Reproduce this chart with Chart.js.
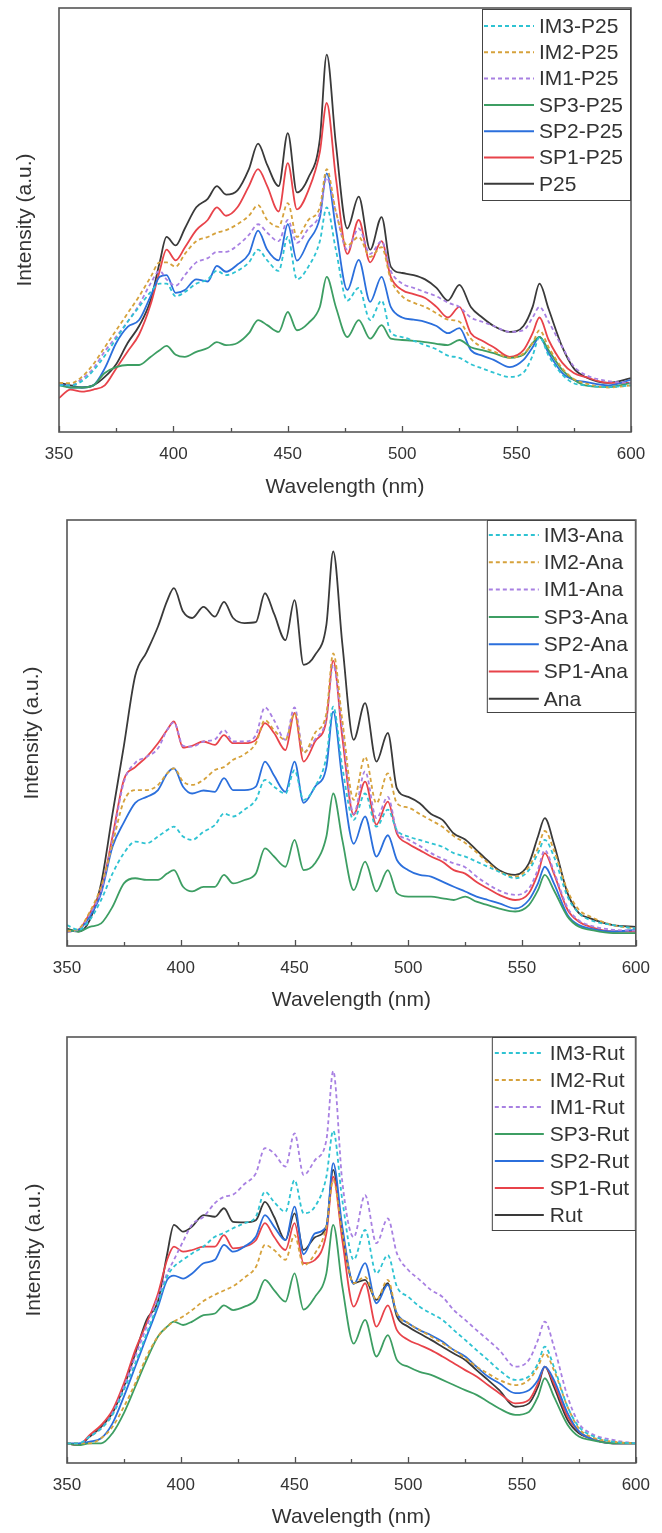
<!DOCTYPE html>
<html>
<head>
<meta charset="utf-8">
<script src="https://cdn.jsdelivr.net/npm/chart.js@4.4.0/dist/chart.umd.min.js"></script>
<style>
html,body{margin:0;padding:0;background:#fff;}
#wrap{position:relative;width:662px;height:1533px;overflow:hidden;}
.panel{position:absolute;left:0;width:662px;}
canvas{display:block;}
</style>
</head>
<body>
<div id="wrap">
  <div class="panel" style="top:0px;height:500px"><canvas id="c1" width="662" height="500"></canvas></div>
  <div class="panel" style="top:500px;height:515px"><canvas id="c2" width="662" height="515"></canvas></div>
  <div class="panel" style="top:1015px;height:518px"><canvas id="c3" width="662" height="518"></canvas></div>
</div>
<script>
// ---------- shared x grid (nm) ----------
const wavelengths = [350,355,360,365,370,375,380,385,390,394,397,401,405,410,415,419,423,428,433,437,441,446,450,454,459,464,467,471,476,481,486,491,495,500,505,510,515,520,525,530,535,540,547,553,557,560,564,570,575,580,590,600];
const xTickValues = [350,400,450,500,550,600];
const xTitle = 'Wavelength (nm)';
const yTitle = 'Intensity (a.u.)';

// ---------- panel 1 : P25 ----------
const p25Labels = ['IM3-P25','IM2-P25','IM1-P25','SP3-P25','SP2-P25','SP1-P25','P25'];
const p25_IM3 = [11,11,12,14.5,18,22,26,29.5,33,35,35,32,33,35,36,38,37,38,40,43,40.5,38,46,36,39,45,53,43,31,34,26.4,31,23.5,22.4,21.5,20.5,19.5,18,17.5,16,15,14,13,14,18,22.4,18,13.5,11.5,11,10.6,11];
const p25_IM2 = [11.6,11.5,13,16,20,24,28,32,36.5,40,40,39,42,45,46,47,47.6,49,51,53.5,50,48.4,54,46,50,53,62,52,44,46,41.3,43.6,36,32,30.5,29.5,28,26.5,26,22,20,19,17.5,18.5,21,24,20,15,12.5,11.5,10.5,11];
const p25_IM1 = [11.6,11,12.5,15,19,22.5,26,30,35,38,36,34.5,37,40,41,42.5,42.5,44,46.5,49,47,45,50,44.6,48,51.6,60,52,43,48,42,45,38,35,34,33,32,30.5,29.5,27,26,25,23.6,24,27,29.5,26,20,15.5,13.5,12,11.6];
const p25_SP3 = [11,10.5,10.5,11,13.9,15.3,15.8,15.8,17.7,19.3,20.3,18.2,17.7,18.9,19.8,21.2,20.5,21,23.3,26.4,25.2,23.6,28.3,24,25.7,29.5,36.6,29.5,22.4,26.4,22,25.2,22,21.7,21.5,21.2,20.8,20.5,21.7,20,19.3,18.6,17.5,18.2,21,22.4,19.3,14.6,12.3,11,10.6,11.6];
const p25_SP2 = [11.6,10.5,10.5,11,15,21,24.8,26.4,32,36.6,37,32.8,33.5,36,35.5,39.2,37.8,39.5,42,47.5,43,40.5,49,40.4,45,50.5,61,48,33.5,40.6,30.7,36.6,29.5,27,26.5,26,25,23.3,24.5,19.3,18,17,15.3,17,20,22.4,18.6,13.9,12.3,11.8,11,12.3];
const p25_SP1 = [8,10,9.5,10,11,15,19,23,30,38,43,40.5,43.5,47.6,50,53,51,53,58,62,58,52,63.4,52.5,57,66,77.6,60,42,50,40,45,36.6,33.5,32.5,31.6,29.5,27,29.5,23.3,21.5,20,17.7,19.3,23.3,27,21.7,16.3,13.9,13,11.6,11.6];
const p25_Base = [11.6,11,10.5,11,13,16,21,25,31,40,46,44,48,53,55,58,56,57,62,68,63,58,70.5,56.5,60,69,89,68,48,55.5,43,50.7,39,37.5,37,36,34,31,34.7,29.5,27,25,23.6,25,29.5,35,29,20,15,13,11.6,12.7];

// ---------- panel 2 : Ana ----------
const anaLabels = ['IM3-Ana','IM2-Ana','IM1-Ana','SP3-Ana','SP2-Ana','SP1-Ana','Ana'];
const ana_IM3 = [4.9,3.8,6.1,10.8,17,21.8,24.5,24.1,25.7,27.2,28,25.7,24.9,26.8,28.4,31.1,30.4,32,34.3,39,37.4,35.8,41.3,34.3,37.4,44.4,56.2,42,29.6,35.8,28,32,27.2,25.7,24.9,24.1,23.3,21.8,21,19.8,18.6,17.4,15.9,17.8,21.8,24.9,21,11.6,7.7,6.1,4.9,4.1];
const ana_IM2 = [3.5,4,8,14,24,34,36.6,36.6,37.8,40.5,41.7,38.6,37.8,39,41.3,42,43.7,45,47.6,53,50.7,48.4,54.6,45.3,50,54.6,68.7,53,34.3,44.4,33.5,40.5,33.5,32.5,31,29.5,28,25.8,24.2,22,19.5,17.5,16.3,18.6,23,27,22.5,13,8.5,6.9,4.9,4.1];
const ana_IM1 = [3.4,3.8,7.5,13,25,38.5,43,44.4,46.4,50.7,52.5,47,46.8,48,48.5,50.7,48,48,49.5,56,53,48.4,56,45.5,48.5,53.5,66,51,31,41,30,35,27,25,23.5,21.8,20.5,19.4,18.5,16.3,14.5,13,12,13.5,18,22.5,17.5,9,6,4.8,3.8,3.6];
const ana_SP3 = [3.8,3.4,4.5,5.3,9.2,14.7,15.9,15.5,15.5,17,17.8,13.9,12.8,13.9,13.9,16.7,14.7,15.5,17,22.9,21,18.6,24.9,17.8,19.4,25.7,35.8,24.9,13.1,19.8,12.8,17.8,12.4,11.6,11.6,11.6,11.2,10.8,11.6,10.4,9.6,8.8,8.1,9.6,13.1,16.7,13.1,6.9,4.5,3.8,3,3];
const ana_SP2 = [3.4,3.8,6.9,12.4,23.3,29,33.6,35,36.6,40.5,41.7,37.4,35.8,36.5,36.2,39.4,36.6,36.6,37.4,43.3,40,36.2,43.3,33.6,37.4,42,55,39,24,30.4,21,26,20.2,17.8,16.7,16.3,15.1,13.9,12.8,11.6,10.8,10,8.8,10.8,14.7,18.6,14.7,7.3,4.9,4.1,3.4,3.8];
const ana_SP1 = [3.4,3.8,7.7,13,25.7,39,42,44.4,47.6,50.7,52.7,46.6,47,48,47.2,49.5,47.6,47.6,48.4,52.3,50,46,54.7,43.3,48,53,67,49,30.8,38.6,28.5,33.9,26.4,24,22.5,21,19.8,17.8,17,15,13.5,12,10.8,12.4,17,21.8,17,8.5,5.7,4.5,3.4,3.4];
const ana_Base = [4.1,3.4,6.1,14.7,31,47,63.5,69,75,81,84,78.5,77,79.6,77.3,80.8,77,75.8,76,82.8,78,71.8,81.2,66,68.3,75.4,92.6,71,48.4,57,43.3,50,37,35,33.5,31,29.6,26.4,25,22.5,20,17.8,16.7,19.4,25.7,30,24,12.4,7.7,6.5,4.9,4.5];

// ---------- panel 3 : Rut ----------
const rutLabels = ['IM3-Rut','IM2-Rut','IM1-Rut','SP3-Rut','SP2-Rut','SP1-Rut','Rut'];
const rut_IM3 = [4.6,4.6,6.2,8.1,11.3,17.1,23.4,30.4,37.5,43.7,46.1,47.7,49.2,50.8,53.1,54,55.1,56.3,57.8,63.7,61.3,59,66.4,58.6,60.2,67.2,78,61.7,47.7,54.7,44.5,48.8,41.4,39,36.7,35.1,33.6,31.2,28.9,26.5,24.2,21.8,19.5,20.3,23.4,27.3,22.6,13.2,8.5,6.6,5,4.6];
const rut_IM2 = [4.6,4.6,4.6,5.8,8.5,13.2,18.7,25,29.7,32,33.2,34.4,35.9,38,39.5,40.5,41.5,43.5,46,51.2,50,47.7,53.5,46.4,49.2,55.5,66.4,53.9,42.2,43.7,38.3,43,35.1,32.8,31.2,29.7,28.1,26.5,24.6,22.6,21,19.5,18.3,19.5,22.6,25.7,21.8,13.2,8.1,6.2,5,4.6];
const rut_IM1 = [4.6,4.6,6.2,8.1,11.7,17.9,25,32,39,44.5,47.7,52,56,57.8,61,62.5,63,65.5,68,73.9,72.7,69.6,77.4,67.6,71.1,75.8,92,66,53,62.9,51.6,57.4,49.2,45.3,43,40.6,39,35.9,33.6,31.2,28.9,26.5,22.6,24.2,28.9,33.2,27.3,15.6,9.3,7,5.4,4.6];
const rut_SP3 = [4.6,4.2,4.6,4.6,7,11.7,17.9,24.2,29.7,32,33.2,32.4,33.2,34.7,35.1,37,35.9,36.7,38.3,43,40.6,37.9,44.5,36,39,44.5,55.9,41.4,28,33.6,25,30,24.2,22.6,21.4,20.7,19.5,18.3,17.1,16,14.4,12.8,11.3,12,15.6,19.9,15.6,9,6.2,5.4,4.6,4.6];
const rut_SP2 = [4.6,4.6,5,5.8,9.3,15.6,22.6,29.7,36.7,43,44,43.3,44.5,46.9,47.7,51.2,49.6,50.8,53.1,58.2,55.5,52.3,60.2,49,53.9,55.5,70.4,55.5,42,46.9,37.5,41.8,35.1,32.8,31.2,30,28.5,26.5,25,22.6,20.3,18.7,16.4,17.1,19.5,22.6,19.5,11.7,7.4,5.8,4.6,4.6];
const rut_SP1 = [4.6,4.2,6.6,8.9,12.4,18.7,26.5,32.8,39.8,47.7,50.8,49.6,50,50.8,50.8,53.5,50.4,50.8,52.3,56.3,53.1,50,56.3,46.9,47.7,53.9,67.2,52.3,36.7,42.2,32,37,31.2,28.9,27.7,26.5,25,23.4,21.8,20.3,18.3,16.4,14,14.8,18.7,22.6,18.7,10.9,7.4,5.8,4.6,4.6];
const rut_Base = [4.6,4.2,6.2,8.5,11.7,17.9,25.7,33.6,38,49,55.9,54.3,55.5,58.2,57.8,59.8,56.6,56.5,57,61.3,57.8,52.3,58.6,50,53,55.5,68.8,53.9,42.2,43,38.3,42.2,34.4,32,30.4,28.9,27.3,25.7,24.2,21.8,19.5,17.1,13.2,14,17.9,22.6,17.9,10.1,7,5.8,4.6,4.6];

// ---------- styles ----------
const FONT = "'Liberation Sans', Arial, Helvetica, sans-serif";
const TEXT = '#333333';
const seriesStyle = [
  {color:'#2ec3d2', dash:[4,3]},  // IM3
  {color:'#d6a23c', dash:[4,3]},  // IM2
  {color:'#a880e2', dash:[4,3]},  // IM1
  {color:'#3d9e63', dash:[]},     // SP3
  {color:'#2b6fdc', dash:[]},     // SP2
  {color:'#e8434a', dash:[]},     // SP1
  {color:'#3a3a3a', dash:[]}      // base
];

function toPoints(vals){ return wavelengths.map((w,i)=>({x:w, y:vals[i]})); }

function makeDatasets(labels, series){
  return labels.map((lab,i)=>({
    label: lab,
    data: toPoints(series[i]),
    borderColor: seriesStyle[i].color,
    borderDash: seriesStyle[i].dash,
    borderWidth: 1.8,
    pointRadius: 0,
    fill: false,
    cubicInterpolationMode: 'monotone'
  }));
}

const frameLegendPlugin = {
  id: 'frameLegend',
  afterDraw(chart, args, o) {
    const ctx = chart.ctx, a = chart.chartArea, xs = chart.scales.x;
    ctx.save();
    // inward ticks on bottom axis
    ctx.strokeStyle = '#505050';
    ctx.lineWidth = 1.3;
    const minorVals = [];
    for (let i = 0; i < xTickValues.length - 1; i++) minorVals.push((xTickValues[i] + xTickValues[i+1]) / 2);
    xTickValues.forEach(v => {
      const px = Math.round(xs.getPixelForValue(v)) + 0.5;
      ctx.beginPath(); ctx.moveTo(px, a.bottom); ctx.lineTo(px, a.bottom - 6); ctx.stroke();
    });
    minorVals.forEach(v => {
      const px = Math.round(xs.getPixelForValue(v)) + 0.5;
      ctx.beginPath(); ctx.moveTo(px, a.bottom); ctx.lineTo(px, a.bottom - 4); ctx.stroke();
    });
    // frame
    ctx.lineWidth = 1.6;
    ctx.strokeStyle = '#555555';
    ctx.strokeRect(a.left, a.top, a.right - a.left, a.bottom - a.top);
    // legend box
    const bx = a.right - o.width, by = a.top + o.topGap;
    ctx.fillStyle = '#ffffff';
    ctx.fillRect(bx, by, o.width, o.height);
    ctx.lineWidth = 1;
    ctx.strokeStyle = '#444444';
    ctx.strokeRect(bx + 0.5, by + 0.5, o.width - 1, o.height);
    ctx.font = o.fontSize + 'px ' + FONT;
    ctx.textBaseline = 'middle';
    ctx.textAlign = 'left';
    chart.data.datasets.forEach((ds, i) => {
      const y = by + o.firstRow + i * o.rowGap;
      ctx.beginPath();
      ctx.setLineDash(ds.borderDash || []);
      ctx.strokeStyle = ds.borderColor;
      ctx.lineWidth = 2;
      ctx.moveTo(bx + o.sampleStart, y);
      ctx.lineTo(bx + o.sampleStart + o.sampleLen, y);
      ctx.stroke();
      ctx.setLineDash([]);
      ctx.fillStyle = TEXT;
      ctx.fillText(ds.label, bx + o.textStart, y + 1);
    });
    ctx.restore();
  }
};

function makeChart(id, labels, series, lay) {
  const canvas = document.getElementById(id);
  return new Chart(canvas, {
    type: 'line',
    data: { datasets: makeDatasets(labels, series) },
    plugins: [frameLegendPlugin],
    options: {
      responsive: false,
      animation: false,
      devicePixelRatio: 1,
      layout: { padding: { top: lay.top, right: lay.right, left: 0, bottom: 0 } },
      plugins: {
        legend: { display: false },
        tooltip: { enabled: false },
        frameLegend: lay.legend
      },
      scales: {
        x: {
          type: 'linear',
          min: 350, max: 600,
          afterFit(s) { s.height = lay.xHeight; },
          afterBuildTicks(s) { s.ticks = xTickValues.map(v => ({value: v})); },
          grid: { display: false, drawTicks: false },
          border: { display: false },
          ticks: {
            color: TEXT,
            font: { family: FONT, size: 17 },
            padding: 12,
            maxRotation: 0,
            callback: v => String(v)
          },
          title: {
            display: true, text: xTitle, color: TEXT,
            font: { family: FONT, size: 21 },
            padding: { top: 0, bottom: lay.xTitlePad }
          }
        },
        y: {
          type: 'linear',
          min: 0, max: 100,
          afterFit(s) { s.width = lay.left; },
          grid: { display: false, drawTicks: false },
          border: { display: false },
          ticks: { display: false },
          title: {
            display: true, text: yTitle, color: TEXT,
            font: { family: FONT, size: 21 },
            padding: { top: lay.yTitlePad, bottom: 0 }
          }
        }
      }
    }
  });
}

makeChart('c1', p25Labels, [p25_IM3,p25_IM2,p25_IM1,p25_SP3,p25_SP2,p25_SP1,p25_Base], {
  top: 8, right: 31, left: 59, xHeight: 68, xTitlePad: 0.5, yTitlePad: 12.5,
  legend: { width: 149, height: 191, topGap: 1, firstRow: 17, rowGap: 26.3, sampleStart: 2, sampleLen: 50, textStart: 57, fontSize: 21 }
});
makeChart('c2', anaLabels, [ana_IM3,ana_IM2,ana_IM1,ana_SP3,ana_SP2,ana_SP1,ana_Base], {
  top: 20, right: 19, left: 67, xHeight: 69, xTitlePad: 2.5, yTitlePad: 19.5,
  legend: { width: 149, height: 192, topGap: 0, firstRow: 15, rowGap: 27.3, sampleStart: 2, sampleLen: 50, textStart: 57, fontSize: 21 }
});
makeChart('c3', rutLabels, [rut_IM3,rut_IM2,rut_IM1,rut_SP3,rut_SP2,rut_SP1,rut_Base], {
  top: 22, right: 19, left: 67, xHeight: 70, xTitlePad: 3.5, yTitlePad: 21.5,
  legend: { width: 144, height: 193, topGap: 0, firstRow: 16, rowGap: 27, sampleStart: 3, sampleLen: 49, textStart: 58, fontSize: 21 }
});
</script>
</body>
</html>
